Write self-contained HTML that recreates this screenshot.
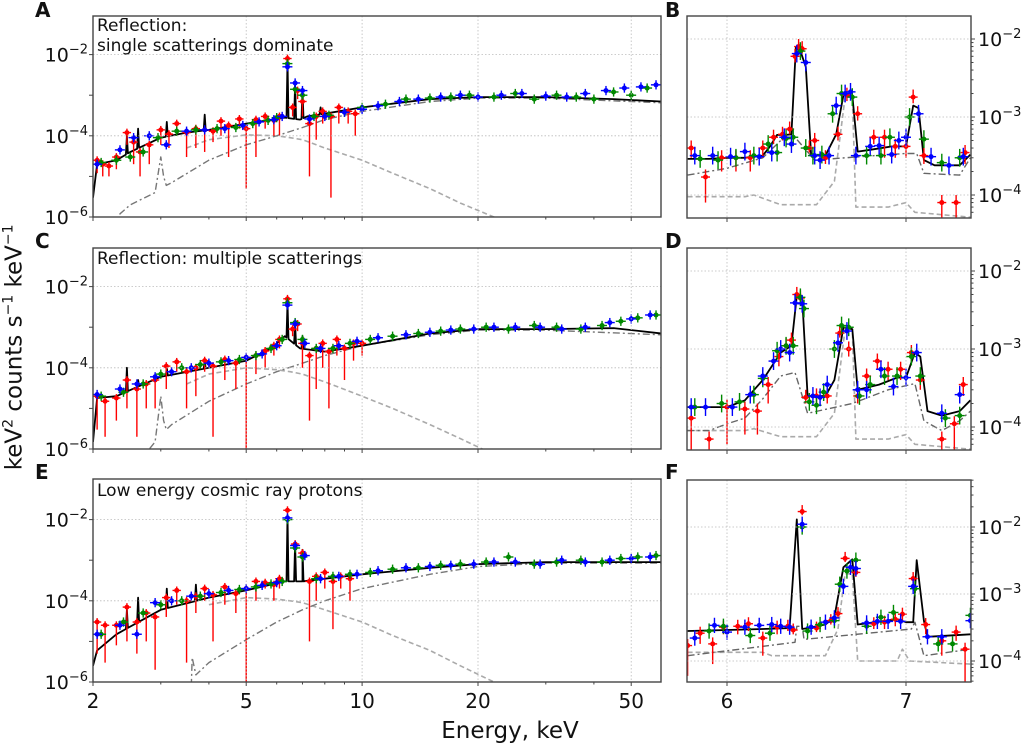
<!DOCTYPE html>
<html><head><meta charset="utf-8"><style>
body{margin:0;background:#fff;}
svg{display:block;font-family:"DejaVu Sans","Liberation Sans",sans-serif;}
</style></head><body>
<svg id="chart" width="1024" height="748" viewBox="0 0 1024 748"></svg>
<script>
// ---------- DATA ----------
// Panel A (left, log energy)
const aContE=[2,2.05,2.3,2.5,3,3.5,4,5,6,6.3,6.9,7.2,8,10,15,20,30,45,60];
const aContV=[3e-6,2e-5,2.5e-5,4e-5,9e-5,1.2e-4,1.4e-4,2e-4,2.6e-4,2.8e-4,2.5e-4,3e-4,3.5e-4,5e-4,8e-4,9e-4,9e-4,8e-4,7e-4];
const aLineE=[2.45,2.62,3.11,3.9,6.4,6.7,7.0,7.8];
const aLineV=[1e-4,1.5e-4,2.2e-4,3.3e-4,7e-3,1.8e-3,1.3e-3,5e-4];
const aDashE=[3.5,4,5,6,6.5,7,8,10,12,15,18,22,26];
const aDashV=[5e-5,8e-5,1.05e-4,1e-4,9e-5,8e-5,5e-5,2.5e-5,1.2e-5,5e-6,2.2e-6,1e-6,5e-7];
const aDotE=[2.3,2.35,2.5,2.9,3.0,3.05,3.1,3.2,4,5,6,7,8,10,15,20,30,60];
const aDotV=[5e-7,1.2e-6,2e-6,4e-6,3e-5,1e-5,6e-6,7e-6,2.5e-5,6e-5,1e-4,1.6e-4,2.5e-4,4e-4,7e-4,8.5e-4,8.5e-4,6.5e-4];
const aRedE=[2.05,2.12,2.2,2.3,2.45,2.55,2.65,2.8,3.0,3.15,3.3,3.5,3.7,3.9,4.1,4.3,4.5,4.8,5.0,5.3,5.6,5.9,6.1,6.4,6.6,6.8,7.0,7.3,7.6,7.9,8.3,8.7,9.2,9.6];
const aRedV=[2.5e-5,2e-5,1.8e-5,3e-5,1.2e-4,7e-5,4e-5,6e-5,1.4e-4,1.1e-4,2e-4,1.2e-4,1.5e-4,1.4e-4,1.3e-4,2.3e-4,1.8e-4,2.6e-4,1.5e-4,2.5e-4,3e-4,2.4e-4,3e-4,8e-3,5e-4,1.3e-3,7e-4,2e-4,3e-4,4e-4,3e-4,5e-4,4e-4,3.5e-4];
const aRedLo=[1.2e-5,1e-5,1e-5,1.5e-5,6e-5,2e-5,1e-5,2e-5,6e-5,5e-5,1e-4,3e-5,5e-5,4e-5,7e-5,1e-4,3e-5,1.5e-4,5e-6,3e-5,1.5e-4,1e-4,1e-4,6e-3,3e-4,8e-4,3e-4,1e-5,8e-5,2e-4,3e-6,2e-4,2e-4,1e-4];
const aGreenE=[2.1,2.3,2.5,2.7,2.95,3.3,3.7,4.2,4.7,5.2,5.7,6.0,6.4,6.7,7.0,7.5,8.2,9,10,11.5,13,15,17,19,22,25,28,32,36,40,45,50,55];
const aGreenV=[2.2e-5,2.5e-5,3e-5,4e-5,9e-5,1.3e-4,1.4e-4,1.5e-4,1.6e-4,2e-4,2.4e-4,2.8e-4,6e-3,1.4e-3,1e-3,3e-4,3.2e-4,3.8e-4,5e-4,6e-4,8e-4,8.5e-4,9e-4,1e-3,9e-4,1.1e-3,8e-4,1e-3,9e-4,8e-4,1.2e-3,1e-3,1.5e-3];
const aBlueE=[2.05,2.35,2.55,2.8,3.1,3.5,3.9,4.4,4.9,5.4,5.9,6.2,6.4,6.7,7.0,7.3,8,9,10,11,12.5,14,16,18,20,23,26,30,34,38,43,48,53,58];
const aBlueV=[2e-5,4.5e-5,9e-5,1e-4,6e-5,1.3e-4,1.4e-4,1.5e-4,1.8e-4,2.2e-4,2.5e-4,3e-4,5e-3,2e-3,1.3e-3,2.6e-4,3e-4,3.8e-4,4.5e-4,5.5e-4,7e-4,8e-4,9e-4,1e-3,9e-4,1e-3,1.1e-3,9.5e-4,9e-4,1.1e-3,1.3e-3,1.5e-3,1.6e-3,1.8e-3];
// Panel C
const cContE=[2,2.05,2.3,3,4,5,5.8,6.3,6.9,8,10,15,20,30,45,60];
const cContV=[1.5e-6,1.8e-5,2e-5,6e-5,1e-4,1.5e-4,3e-4,6e-4,3e-4,2.5e-4,3.5e-4,7e-4,9e-4,9e-4,9.5e-4,7e-4];
const cLineE=[2.45,2.62,3.11,3.9,6.4,6.7,7.0];
const cLineV=[1e-4,5e-5,1e-4,1.5e-4,4e-3,1.2e-3,6e-4];
const cDashE=[3.5,4,5,6,6.5,7,8,10,12,15,18,21,25];
const cDashV=[4e-5,7e-5,1e-4,9e-5,8e-5,7e-5,4.5e-5,2e-5,1e-5,4e-6,1.8e-6,9e-7,4e-7];
const cDotE=[2.5,2.7,2.8,2.9,3.0,3.05,3.1,3.2,4,5,6,7,8,10,15,20,30,60];
const cDotV=[3e-7,5e-7,1e-6,1.5e-6,2e-5,5e-6,3e-6,4e-6,1.5e-5,4e-5,8e-5,1.3e-4,2e-4,3.5e-4,6.5e-4,8.5e-4,8.5e-4,6.5e-4];
const cRedE=[2.05,2.15,2.3,2.45,2.6,2.75,2.9,3.1,3.3,3.5,3.7,3.9,4.1,4.4,4.7,5.0,5.3,5.6,5.9,6.1,6.4,6.6,6.8,7.0,7.3,7.6,7.9,8.2,8.6,9.0,9.5,10];
const cRedV=[2e-5,1.5e-5,1.8e-5,5e-5,3e-5,4e-5,5e-5,1.1e-4,1.4e-4,8e-5,1e-4,1.5e-4,1.1e-4,1.6e-4,1.3e-4,1.8e-4,2e-4,2.6e-4,3.5e-4,5e-4,5e-3,9e-4,1.2e-3,4e-4,2e-4,3e-4,4e-4,2.5e-4,5e-4,3e-4,4e-4,4e-4];
const cRedLo=[3e-6,2e-6,5e-6,1e-5,2e-6,1e-5,1e-5,3e-5,8e-5,1e-5,2e-5,8e-5,2e-6,5e-5,3e-5,1e-6,7e-5,1e-4,2e-4,3e-4,4e-3,6e-4,8e-4,1e-4,5e-6,3e-5,1e-4,1e-5,2e-4,5e-5,1.5e-4,2e-4];
const cGreenE=[2.1,2.4,2.7,3.0,3.4,3.8,4.3,4.8,5.3,5.8,6.2,6.4,6.7,7.0,7.6,8.4,9.3,10.5,12,14,16,18,21,24,28,32,37,42,47,52,58];
const cGreenV=[2e-5,2.5e-5,4e-5,7e-5,1e-4,1.2e-4,1.4e-4,1.6e-4,2e-4,3e-4,5e-4,4e-3,1.3e-3,5e-4,3e-4,3e-4,4e-4,5e-4,6e-4,7e-4,8e-4,9e-4,1e-3,9e-4,1.1e-3,1e-3,9e-4,1.1e-3,1.4e-3,1.7e-3,2e-3];
const cBlueE=[2.05,2.35,2.6,2.9,3.2,3.6,4.0,4.5,5.0,5.5,6.0,6.4,6.7,7.1,7.8,8.7,9.7,11,13,15,17,19.5,22,25,29,33,38,44,50,56];
const cBlueV=[2.2e-5,3e-5,4e-5,6e-5,8e-5,1e-4,1.3e-4,1.5e-4,1.8e-4,2.2e-4,3.5e-4,3.5e-3,1.2e-3,4e-4,3e-4,3.5e-4,4.5e-4,5.5e-4,6.5e-4,7.5e-4,8.5e-4,9e-4,1e-3,1e-3,1e-3,9e-4,1e-3,1.3e-3,1.6e-3,2e-3];
// Panel E
const eContE=[2,2.05,2.3,3,4,5,6.3,7,8,10,15,20,30,60];
const eContV=[2.5e-6,6e-6,1.5e-5,6e-5,1.2e-4,1.8e-4,3e-4,3e-4,3.5e-4,4.5e-4,6.5e-4,8e-4,9e-4,9e-4];
const eLineE=[2.45,2.62,3.11,3.7,6.4,6.7,7.0];
const eLineV=[6e-5,1.2e-4,2e-4,2.5e-4,1.3e-2,2.5e-3,1.8e-3];
const eDashE=[4,5,6,6.5,7,8,10,12,15,18,22,26];
const eDashV=[8e-5,1.2e-4,1.1e-4,1e-4,9e-5,6e-5,3e-5,1.4e-5,6e-6,2.5e-6,1e-6,5e-7];
const eDotE=[3.6,3.62,3.7,4,5,6,7,8,10,15,20,30,60];
const eDotV=[8e-7,4e-6,1.5e-6,3e-6,1.1e-5,3e-5,6e-5,1e-4,2e-4,4.5e-4,7e-4,8.5e-4,8.5e-4];
const eRedE=[2.05,2.15,2.3,2.45,2.6,2.75,2.9,3.1,3.3,3.5,3.7,3.9,4.1,4.4,4.7,5.0,5.3,5.6,5.9,6.1,6.4,6.7,7.0,7.3,7.6,8.0,8.4,8.8,9.3];
const eRedV=[3e-5,2.5e-5,2.5e-5,7e-5,3e-5,5e-5,4e-5,1.2e-4,1.8e-4,1e-4,1.3e-4,2e-4,1.4e-4,2.2e-4,1.5e-4,2e-4,3e-4,2.8e-4,2.5e-4,3.5e-4,1.7e-2,2.5e-3,1.5e-3,3e-4,4e-4,5e-4,3e-4,4e-4,3.5e-4];
const eRedLo=[5e-6,3e-6,8e-6,1e-5,5e-6,1e-5,2e-6,4e-5,8e-5,3e-6,5e-5,1e-4,1e-5,8e-5,5e-5,1e-6,1e-4,2e-4,1e-4,2e-4,1.4e-2,2e-3,1e-3,1e-5,1e-4,2e-4,2e-5,2e-4,1e-4];
const eGreenE=[2.1,2.4,2.7,3.0,3.4,3.8,4.3,4.8,5.3,5.8,6.2,6.4,6.7,7.0,7.6,8.4,9.3,10.5,12,14,16,18,21,24,28,32,37,42,47,52,58];
const eGreenV=[1.5e-5,3e-5,5e-5,8e-5,1e-4,1.3e-4,1.6e-4,1.9e-4,2.2e-4,2.6e-4,3e-4,1e-2,2e-3,1.2e-3,3.5e-4,4e-4,4.5e-4,5e-4,6e-4,6.5e-4,7.5e-4,8e-4,9e-4,1.2e-3,8e-4,9e-4,1e-3,9e-4,1.1e-3,1.2e-3,1.3e-3];
const eBlueE=[2.05,2.35,2.6,2.9,3.2,3.6,4.0,4.5,5.0,5.5,6.0,6.4,6.7,7.1,7.8,8.7,9.7,11,13,15,17,19.5,22,25,29,33,38,44,50,56];
const eBlueV=[1.5e-5,2.5e-5,1.5e-5,9e-5,1e-4,1.3e-4,1.5e-4,1.8e-4,2e-4,2.4e-4,2.8e-4,1.1e-2,2.3e-3,1.3e-3,3.5e-4,4e-4,4.5e-4,5.5e-4,6.5e-4,7e-4,7.5e-4,8e-4,9e-4,9e-4,8e-4,1e-3,9e-4,1e-3,1.1e-3,1.2e-3];
// Panel B (zoom, linear energy)
const bModE=[5.78,5.9,6.0,6.1,6.2,6.24,6.28,6.33,6.36,6.385,6.41,6.44,6.47,6.5,6.55,6.61,6.65,6.7,6.73,6.8,6.92,7.0,7.04,7.07,7.1,7.16,7.3,7.36];
const bModV=[2.9e-4,2.9e-4,3e-4,3e-4,3.2e-4,4.2e-4,5.9e-4,5.9e-4,6e-4,7.9e-3,7e-3,4.4e-3,3.3e-4,3.2e-4,3.2e-4,6e-4,1.9e-3,1.9e-3,3.6e-4,3.8e-4,4.2e-4,4.2e-4,1.4e-3,1.3e-3,2.8e-4,2.4e-4,2.4e-4,3.3e-4];
const bDashE=[5.78,6.1,6.15,6.3,6.5,6.6,6.66,6.7,6.72,6.9,7.0,7.05,7.36];
const bDashV=[9.5e-5,9.5e-5,1e-4,7.5e-5,7.5e-5,1.5e-4,1.8e-3,1.8e-3,7e-5,7e-5,8e-5,6e-5,5.2e-5];
const bDotE=[5.78,6.0,6.2,6.3,6.38,6.49,6.9,7.0,7.06,7.1,7.3,7.36];
const bDotV=[1.8e-4,2.2e-4,3e-4,5e-4,5.5e-4,2.8e-4,3.3e-4,3.4e-4,3.4e-4,1.9e-4,1.8e-4,3e-4];
const bRedE=[5.8,5.88,5.97,6.05,6.13,6.2,6.26,6.31,6.35,6.38,6.4,6.42,6.46,6.49,6.55,6.62,6.67,6.73,6.82,6.88,6.94,7.0,7.04,7.1,7.2,7.28,7.33];
const bRedV=[4e-4,1.7e-4,3e-4,3e-4,3e-4,4e-4,5.5e-4,6e-4,7e-4,6e-3,8e-3,7.5e-3,4e-4,5e-4,3e-4,6e-4,1.9e-3,1.1e-3,5.5e-4,5.5e-4,4.2e-4,4.2e-4,1.8e-3,3.2e-4,8e-5,8e-5,3.5e-4];
const bRedLo=[3e-4,8e-5,2e-4,2e-4,2e-4,3e-4,4.5e-4,5e-4,6e-4,5e-3,7e-3,6.5e-3,3.5e-4,4e-4,2.5e-4,5e-4,1.6e-3,9e-4,4.5e-4,3e-4,3e-4,3e-4,1.5e-3,2.5e-4,4e-5,4e-5,2.5e-4];
const bGreenE=[5.85,5.95,6.05,6.15,6.23,6.28,6.33,6.37,6.41,6.44,6.48,6.53,6.59,6.64,6.7,6.78,6.86,6.91,7.02,7.1,7.2,7.3];
const bGreenV=[2.9e-4,2.8e-4,3e-4,3.2e-4,4.5e-4,3.5e-4,5.3e-4,5.5e-4,7e-3,4e-4,3.2e-4,3.3e-4,1.1e-3,2e-3,1.8e-3,3.2e-4,3.2e-4,5.5e-4,1e-3,5.2e-4,2.6e-4,3e-4];
const bBlueE=[5.82,5.92,6.02,6.1,6.18,6.25,6.32,6.36,6.39,6.44,6.49,6.52,6.57,6.61,6.66,6.69,6.72,6.8,6.85,6.92,6.96,7.0,7.07,7.14,7.24,7.32];
const bBlueV=[3.2e-4,3.2e-4,3.1e-4,3.6e-4,3.1e-4,3.5e-4,5.5e-4,4.5e-4,6.5e-3,5e-3,3.2e-4,2.8e-4,3.2e-4,1.4e-3,2e-3,2.1e-3,3.2e-4,4.2e-4,4.3e-4,3.3e-4,5e-4,5.5e-4,1.1e-3,3.1e-4,2.4e-4,3.1e-4];
// Panel D
const dModE=[5.78,6.0,6.1,6.2,6.25,6.3,6.36,6.39,6.42,6.45,6.55,6.6,6.65,6.7,6.73,6.85,6.95,7.0,7.05,7.08,7.12,7.2,7.3,7.36];
const dModV=[1.8e-4,1.8e-4,2.2e-4,4e-4,6e-4,9e-4,1.1e-3,4.8e-3,4.5e-3,2.5e-4,2.5e-4,4e-4,1.9e-3,1.8e-3,3e-4,3.5e-4,4.3e-4,4.3e-4,9e-4,8e-4,1.6e-4,1.4e-4,1.6e-4,2.2e-4];
const dDashE=[5.78,6.1,6.15,6.3,6.5,6.6,6.66,6.7,6.72,6.9,7.0,7.05,7.36];
const dDashV=[9e-5,9e-5,9.5e-5,7.5e-5,7.5e-5,1.5e-4,1.8e-3,1.8e-3,7e-5,7e-5,8e-5,6e-5,5.2e-5];
const dDotE=[5.78,5.9,6.0,6.1,6.2,6.3,6.38,6.45,6.7,6.9,7.05,7.1,7.2,7.3,7.36];
const dDotV=[9e-5,9e-5,1.1e-4,1.3e-4,2.3e-4,4.5e-4,5e-4,1.5e-4,2e-4,3e-4,3.6e-4,1.2e-4,9e-5,1.2e-4,1.6e-4];
const dRedE=[5.8,5.9,6.0,6.1,6.17,6.23,6.29,6.33,6.36,6.39,6.41,6.44,6.5,6.56,6.63,6.68,6.73,6.78,6.84,6.9,6.97,7.03,7.08,7.2,7.27,7.32];
const dRedV=[1.3e-4,7e-5,1.8e-4,1.7e-4,1.6e-4,3.5e-4,8e-4,1.1e-3,1.3e-3,5e-3,4.5e-3,2.4e-4,2.5e-4,2.5e-4,1.6e-3,1e-3,2.5e-4,4.5e-4,7e-4,5.5e-4,5.5e-4,9e-4,4e-4,7e-5,1.1e-4,3.5e-4];
const dRedLo=[5e-5,3e-5,6e-5,8e-5,8e-5,2e-4,6e-4,9e-4,1.1e-3,4.5e-3,4e-3,2e-4,2e-4,2e-4,1.4e-3,8e-4,2e-4,3e-4,5.5e-4,4e-4,4e-4,7e-4,3e-4,3e-5,5e-5,2.5e-4];
const dGreenE=[5.82,5.97,6.07,6.15,6.2,6.28,6.33,6.37,6.41,6.43,6.46,6.5,6.54,6.6,6.64,6.68,6.74,6.8,6.88,6.95,7.03,7.08,7.22,7.3];
const dGreenV=[1.8e-4,2e-4,2.1e-4,2.6e-4,4.2e-4,9.5e-4,1.1e-3,1.1e-3,4.6e-3,3.3e-3,2.1e-4,1.9e-4,2.8e-4,1e-3,2e-3,1.9e-3,2.5e-4,3.5e-4,4.5e-4,4.5e-4,8e-4,4.5e-4,1.3e-4,1.4e-4];
const dBlueE=[5.8,5.88,6.03,6.13,6.2,6.26,6.3,6.35,6.38,6.42,6.48,6.52,6.56,6.62,6.67,6.73,6.78,6.86,6.93,7.0,7.06,7.2,7.3];
const dBlueV=[1.8e-4,1.8e-4,1.8e-4,2.6e-4,4.5e-4,7e-4,1e-3,9e-4,3.9e-3,3.8e-3,2.5e-4,2.4e-4,3.5e-4,1.2e-3,1.7e-3,3e-4,3e-4,5.5e-4,3.3e-4,4.3e-4,9e-4,1.5e-4,2.6e-4];
// Panel F
const fModE=[5.78,6.0,6.2,6.35,6.39,6.42,6.45,6.55,6.6,6.65,6.7,6.73,6.95,7.0,7.04,7.06,7.1,7.12,7.36];
const fModV=[2.8e-4,2.9e-4,3e-4,3.1e-4,1.3e-2,3e-4,3.1e-4,3.5e-4,4.5e-4,2.5e-3,3.3e-3,3.5e-4,4.2e-4,3.8e-4,3.8e-4,3.2e-3,4e-4,2.3e-4,2.5e-4];
const fDashE=[5.78,6.2,6.25,6.55,6.62,6.66,6.7,6.73,6.95,6.98,7.02,7.36];
const fDashV=[1.35e-4,1.35e-4,1.2e-4,1.2e-4,3e-4,2e-3,2e-3,1e-4,1e-4,1.5e-4,1e-4,9e-5];
const fDotE=[5.78,6.38,6.39,6.42,6.43,7.03,7.05,7.1,7.36];
const fDotV=[1.2e-4,1.9e-4,3.3e-4,3.3e-4,2.1e-4,3e-4,3.8e-4,1.2e-4,1.5e-4];
const fRedE=[5.78,5.85,5.92,5.98,6.06,6.12,6.2,6.28,6.34,6.37,6.42,6.5,6.58,6.62,6.66,6.72,6.82,6.88,6.94,6.98,7.04,7.11,7.2,7.28,7.33];
const fRedV=[1.7e-4,2.6e-4,1.8e-4,3.2e-4,3.3e-4,3.6e-4,2.2e-4,3.2e-4,3.3e-4,2.9e-4,1.7e-2,3.1e-4,4e-4,5.1e-4,3.4e-3,2.1e-3,3.6e-4,3.8e-4,4.2e-4,5e-4,1.7e-3,3.5e-4,2e-4,2.7e-4,1.5e-4];
const fRedLo=[6e-5,1.8e-4,9e-5,2.5e-4,2.5e-4,2.8e-4,1.2e-4,2.5e-4,2.8e-4,2.5e-4,1.5e-2,2.7e-4,3.5e-4,4.3e-4,3e-3,1.8e-3,3e-4,3e-4,3.3e-4,4e-4,1.4e-3,2.5e-4,1.2e-4,2e-4,4e-5];
const fGreenE=[5.9,5.98,6.13,6.24,6.42,6.45,6.52,6.6,6.63,6.67,6.72,6.78,6.86,6.93,7.05,7.18,7.26,7.36];
const fGreenV=[2.8e-4,3.3e-4,2.4e-4,2.6e-4,1e-2,2.8e-4,3.5e-4,4e-4,1.4e-3,2.2e-3,3.2e-3,3.3e-4,4.5e-4,5.3e-4,1.2e-3,1.8e-4,1.8e-4,4.8e-4];
const fBlueE=[5.82,5.93,6.0,6.1,6.18,6.25,6.3,6.35,6.42,6.47,6.55,6.6,6.65,6.69,6.72,6.78,6.84,6.9,6.97,7.04,7.12,7.2,7.36];
const fBlueV=[2.2e-4,3.4e-4,2.7e-4,3.2e-4,3.4e-4,3.5e-4,3.3e-4,3.2e-4,1.1e-2,3.2e-4,3.8e-4,4.4e-4,1.3e-3,2.5e-3,2.4e-3,3.7e-4,3.9e-4,3.9e-4,3.9e-4,1.3e-3,2.3e-4,2.3e-4,4e-4];
const leftXTicks=[2,5,10,20,50];
const leftXMinor=[3,4,6,7,8,9,30,40];
const leftYTicks=[-6,-4,-2];
const rightXTicks=[6,7];
const rightYTicks=[-4,-3,-2];

// ---------- DRAWING ----------
const NS='http://www.w3.org/2000/svg';
const svg=document.getElementById('chart');
function mk(tag,attrs,parent){const e=document.createElementNS(NS,tag);for(const k in attrs)e.setAttribute(k,attrs[k]);(parent||svg).appendChild(e);return e;}
const L=Math.log10;
function interpLog(E,V,e){for(let i=0;i<E.length-1;i++){if(e>=E[i]&&e<=E[i+1]){const t=(L(e)-L(E[i]))/(L(E[i+1])-L(E[i]));return Math.pow(10,L(V[i])+t*(L(V[i+1])-L(V[i])));}}return V[V.length-1];}
function withLines(E,V,LE,LV){const pts=E.map((e,i)=>[e,V[i]]);LE.forEach((e,i)=>{pts.push([e*0.994,interpLog(E,V,e*0.994)]);pts.push([e,LV[i]]);pts.push([e*1.006,interpLog(E,V,e*1.006)]);});pts.sort((a,b)=>a[0]-b[0]);return pts;}

function makePanel(name,x0,x1,y0,y1,xf,yf){
  const g=mk('g',{});
  
  
  const id='clip-'+name;
  const cp=mk('clipPath',{id:id},g);mk('rect',{x:x0,y:y0,width:x1-x0,height:y1-y0},cp);
  const inner=mk('g',{'clip-path':'url(#'+id+')'},g);
  return {g,inner,x0,x1,y0,y1,xf,yf};
}
function line(p,pts,stroke,w,dash,name){
  const d=pts.map((q,i)=>(i?'L':'M')+p.xf(q[0]).toFixed(1)+','+p.yf(q[1]).toFixed(1)).join('');
  const el=mk('path',{d:d,fill:'none',stroke:stroke,'stroke-width':w,'stroke-dasharray':dash||'none','stroke-linejoin':'round'},p.inner);
  
  
}
function points(p,E,V,Lo,color,hw,logx,name){
  const grp=mk('g',{},p.inner);
  
  
  E.forEach((e,i)=>{
    const x=p.xf(e),y=p.yf(V[i]);
    const xa=logx?p.xf(e*(1-hw)):p.xf(e-hw), xb=logx?p.xf(e*(1+hw)):p.xf(e+hw);
    const lo=Lo?p.yf(Lo[i]):p.yf(V[i]/1.3), hi=p.yf(V[i]*(Lo?1.25:1.3));
    mk('line',{x1:xa,y1:y,x2:xb,y2:y,stroke:color,'stroke-width':1.4},grp);
    mk('line',{x1:x,y1:hi,x2:x,y2:lo,stroke:color,'stroke-width':1.4},grp);
    mk('circle',{cx:x,cy:y,r:2.5,fill:color},grp);
  });
}
function frame(p){mk('rect',{x:p.x0,y:p.y0,width:p.x1-p.x0,height:p.y1-p.y0,fill:'none',stroke:'#444','stroke-width':1.4},p.g);}
function sup(t,x,y,exp,anchor,name){
  const el=mk('text',{x:x,y:y,'font-size':19,fill:'#111','text-anchor':anchor},t.parentG);
  
  
  el.appendChild(document.createTextNode('10'));
  const ts=mk('tspan',{dy:-8,'font-size':13},el);ts.textContent='−'+exp;
}
function grid(p,xs,ys){
  xs.forEach(v=>mk('line',{x1:p.xf(v),y1:p.y0,x2:p.xf(v),y2:p.y1,stroke:'#bbb','stroke-width':0.8,'stroke-dasharray':'1.5,2'},p.g));
  ys.forEach(v=>mk('line',{x1:p.x0,y1:p.yf(Math.pow(10,v)),x2:p.x1,y2:p.yf(Math.pow(10,v)),stroke:'#bbb','stroke-width':0.8,'stroke-dasharray':'1.5,2'},p.g));
}
function leftPanel(name,top,bottom,C,showX){
  const xf=e=>93+(L(e)-L(2))*385;
  const yf=v=>bottom-(L(v)+6)*40.6;
  const p=makePanel(name,93,661,top,bottom,xf,yf);
  grid(p,leftXTicks,leftYTicks);
  line(p,C.dashE.map((e,i)=>[e,C.dashV[i]]),'#aaa',1.6,'5,3','reflection-component-dashed');
  line(p,C.dotE.map((e,i)=>[e,C.dotV[i]]),'#777',1.4,'7,3,2,3','continuum-component-dashdot');
  line(p,withLines(C.contE,C.contV,C.lineE,C.lineV),'#000',1.8,null,'total-model-line');
  points(p,C.rE,C.rV,C.rLo,'#f00',0.025,true,'red-data-points');
  points(p,C.gE,C.gV,null,'#080',0.03,true,'green-data-points');
  points(p,C.bE,C.bV,null,'#00f',0.03,true,'blue-data-points');
  frame(p);
  leftXTicks.concat(leftXMinor).forEach(v=>{const maj=leftXTicks.includes(v);mk('line',{x1:xf(v),y1:bottom,x2:xf(v),y2:bottom+(maj?4:2.5),stroke:'#444'},p.g);
    if(showX&&maj){const t=mk('text',{x:xf(v),y:bottom+26,'font-size':20,'text-anchor':'middle',fill:'#111'},p.g);t.textContent=v;}});
  [-6,-5,-4,-3,-2].forEach(v=>mk('line',{x1:93,y1:yf(Math.pow(10,v)),x2:89,y2:yf(Math.pow(10,v)),stroke:'#444'},p.g));
  leftYTicks.forEach(v=>{const t={parentG:p.g};sup(t,88,yf(Math.pow(10,v))+7,-v,'end','y-tick-label');});
  return p;
}
function rightPanel(name,top,bottom,ref2,dec,C,showX){
  const xf=e=>727+(e-6)*179;
  const yf=v=>ref2+(-2-L(v))*dec;
  const p=makePanel(name,687,971,top,bottom,xf,yf);
  grid(p,rightXTicks,rightYTicks);
  line(p,C.dashE.map((e,i)=>[e,C.dashV[i]]),'#aaa',1.6,'5,3','reflection-component-dashed');
  line(p,C.dotE.map((e,i)=>[e,C.dotV[i]]),'#666',1.4,'7,3,2,3','continuum-component-dashdot');
  line(p,C.modE.map((e,i)=>[e,C.modV[i]]),'#000',1.8,null,'total-model-line');
  points(p,C.rE,C.rV,C.rLo,'#f00',0.025,false,'red-data-points');
  points(p,C.gE,C.gV,null,'#080',0.028,false,'green-data-points');
  points(p,C.bE,C.bV,null,'#00f',0.028,false,'blue-data-points');
  frame(p);
  rightXTicks.forEach(v=>{mk('line',{x1:xf(v),y1:bottom,x2:xf(v),y2:bottom+4,stroke:'#444'},p.g);
    if(showX){const t=mk('text',{x:xf(v),y:bottom+26,'font-size':20,'text-anchor':'middle',fill:'#111'},p.g);t.textContent=v;}});
  for(let d=-5;d<=-2;d++)for(let m=1;m<10;m++){const v=m*Math.pow(10,d);const y=yf(v);if(y<top||y>bottom)continue;mk('line',{x1:971,y1:y,x2:971+(m===1?4:2.5),y2:y,stroke:'#444'},p.g);}
  rightYTicks.forEach(v=>{const t={parentG:p.g};sup(t,978,yf(Math.pow(10,v))+7,-v,'start','y-tick-label');});
  return p;
}
leftPanel('panel-a',16,217,{contE:aContE,contV:aContV,lineE:aLineE,lineV:aLineV,dashE:aDashE,dashV:aDashV,dotE:aDotE,dotV:aDotV,rE:aRedE,rV:aRedV,rLo:aRedLo,gE:aGreenE,gV:aGreenV,bE:aBlueE,bV:aBlueV},false);
leftPanel('panel-c',248,449,{contE:cContE,contV:cContV,lineE:cLineE,lineV:cLineV,dashE:cDashE,dashV:cDashV,dotE:cDotE,dotV:cDotV,rE:cRedE,rV:cRedV,rLo:cRedLo,gE:cGreenE,gV:cGreenV,bE:cBlueE,bV:cBlueV},false);
leftPanel('panel-e',479,682,{contE:eContE,contV:eContV,lineE:eLineE,lineV:eLineV,dashE:eDashE,dashV:eDashV,dotE:eDotE,dotV:eDotV,rE:eRedE,rV:eRedV,rLo:eRedLo,gE:eGreenE,gV:eGreenV,bE:eBlueE,bV:eBlueV},true);
rightPanel('panel-b',16,218,39,78,{modE:bModE,modV:bModV,dashE:bDashE,dashV:bDashV,dotE:bDotE,dotV:bDotV,rE:bRedE,rV:bRedV,rLo:bRedLo,gE:bGreenE,gV:bGreenV,bE:bBlueE,bV:bBlueV},false);
rightPanel('panel-d',248,450,271,78,{modE:dModE,modV:dModV,dashE:dDashE,dashV:dDashV,dotE:dDotE,dotV:dDotV,rE:dRedE,rV:dRedV,rLo:dRedLo,gE:dGreenE,gV:dGreenV,bE:dBlueE,bV:dBlueV},false);
rightPanel('panel-f',480,682,527,67,{modE:fModE,modV:fModV,dashE:fDashE,dashV:fDashV,dotE:fDotE,dotV:fDotV,rE:fRedE,rV:fRedV,rLo:fRedLo,gE:fGreenE,gV:fGreenV,bE:fBlueE,bV:fBlueV},true);
</script>
<div style="position:absolute;left:0;top:0;width:1024px;height:748px;pointer-events:none;font-family:'DejaVu Sans','Liberation Sans',sans-serif;color:#111;">
  <div style="position:absolute;left:35px;top:-2px;font-size:20px;font-weight:bold;">A</div>
  <div style="position:absolute;left:665px;top:-2px;font-size:20px;font-weight:bold;">B</div>
  <div style="position:absolute;left:35px;top:229px;font-size:20px;font-weight:bold;">C</div>
  <div style="position:absolute;left:665px;top:229px;font-size:20px;font-weight:bold;">D</div>
  <div style="position:absolute;left:35px;top:460px;font-size:20px;font-weight:bold;">E</div>
  <div style="position:absolute;left:665px;top:460px;font-size:20px;font-weight:bold;">F</div>
  <div style="position:absolute;left:97px;top:16px;font-size:17px;line-height:20px;">Reflection:<br>single scatterings dominate</div>
  <div style="position:absolute;left:97px;top:249px;font-size:17px;">Reflection: multiple scatterings</div>
  <div style="position:absolute;left:97px;top:481px;font-size:17px;">Low energy cosmic ray protons</div>
  <div style="position:absolute;left:377px;top:718px;width:266px;text-align:center;font-size:23px;">Energy, keV</div>
  <div style="position:absolute;left:-176px;top:334px;width:380px;text-align:center;font-size:23px;transform:rotate(-90deg);">keV<sup style="font-size:14px">2</sup> counts s<sup style="font-size:14px">−1</sup> keV<sup style="font-size:14px">−1</sup></div>
</div>
</body></html>
